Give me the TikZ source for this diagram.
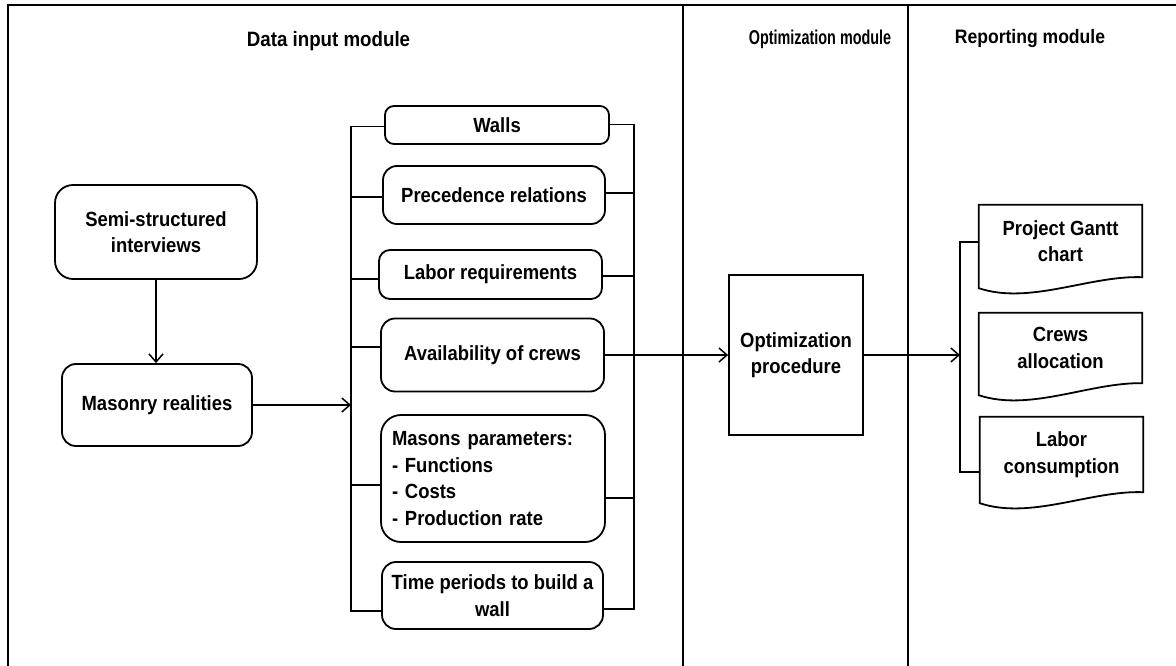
\documentclass[tikz,border=0pt]{standalone}
\usepackage{fontspec}
\setmainfont{Liberation Sans}[FakeStretch=0.9]
\newfontfamily\narrowfont{Liberation Sans}[FakeStretch=0.72]
\usetikzlibrary{arrows.meta,calc}
\begin{document}
\begin{tikzpicture}[x=1pt,y=-1pt,
  every node/.style={font=\bfseries\fontsize{20.5}{26.5}\selectfont},
  rbox/.style={draw, line width=1.8pt, rounded corners=14pt, align=center, inner sep=0pt},
  conn/.style={line width=1.9pt},
  arr/.style={conn, -{Straight Barb[length=8pt,width=14pt,line width=1.5pt]}},
  frame/.style={line width=2.4pt},
  title/.style={anchor=base},
  doc/.style={align=center, inner sep=0pt, minimum width=163pt},
  docline/.style={draw, line width=1.8pt}]
\useasboundingbox (0,0) rectangle (1176,666);
% frame and module dividers
\draw[frame] (8,666) -- (8,5) -- (1176,5);
\draw[frame] (683,5) -- (683,666);
\draw[frame] (908,5) -- (908,666);
% titles
\node[title, font=\bfseries\fontsize{20.8}{25}\selectfont] (t1) at (328.5,47) {Data input module};
\node[title, font=\narrowfont\bfseries\fontsize{20}{24}\selectfont] (t2) at (820,45) {Optimization module};
\node[title, font=\bfseries\fontsize{19.5}{23}\selectfont] (t3) at (1030,44) {Reporting module};
% data input boxes
\node[rbox, minimum width=202pt, minimum height=94pt, rounded corners=18pt] (semi) at (156,232) {Semi-structured\\interviews};
\node[rbox, minimum width=190pt, minimum height=82pt] (mas) at (157,405) {Masonry realities};
\node[rbox, minimum width=224pt, minimum height=38pt, rounded corners=9pt] (walls) at (497,125) {Walls};
\node[rbox, minimum width=222pt, minimum height=58pt] (prec) at (494,195) {Precedence relations};
\node[rbox, minimum width=223pt, minimum height=49pt, rounded corners=11pt] (labor) at (490.5,274.5) {Labor requirements};
\node[rbox, minimum width=223pt, minimum height=73pt] (avail) at (492.5,355) {Availability of crews};
\node[rbox, minimum width=224pt, minimum height=127pt, rounded corners=20pt, align=left, text width=202pt, inner xsep=11pt] (masons) at (493,478.5) {Masons parameters:\\- Functions\\- Costs\\- Production rate};
\node[rbox, minimum width=221pt, minimum height=67pt] (time) at (492.5,595.5) {Time periods to build a\\wall};
% optimization
\node[draw, line width=1.8pt, minimum width=134pt, minimum height=160pt, align=center, inner sep=0pt] (opt) at (796,355) {Optimization\\procedure};
% reporting documents
\node[doc, minimum height=72pt] (gantt) at (1060.5,241) {Project Gantt\\chart};
\node[doc, minimum height=70pt] (crews) at (1060.5,348) {Crews\\allocation};
\node[doc, minimum height=75pt] (lcons) at (1061.5,454.5) {Labor\\consumption};
\foreach \n/\d in {gantt/11, crews/12, lcons/11}{
  \draw[docline] (\n.south east) -- (\n.north east) -- (\n.north west) -- ($(\n.south west)+(0,\d)$)
    .. controls ($(\n.south west)+(51,\d+17)$) and ($(\n.south west)+(111,\d-13)$) .. (\n.south east) -- cycle;
}
% bracket coordinates
\coordinate (lbx) at (351,0);
\coordinate (rbx) at (634,0);
\coordinate (obx) at (960,0);
% connectors
\draw[arr] (semi.south) -- (semi.south |- mas.north);
\draw[arr] (mas.east) -- (mas.east -| lbx);
\draw[conn] ($(walls.west)+(0,1.5)$) -- ($(walls.west -| lbx)+(0,1.5)$) -- ($(time.west -| lbx)+(0,15.5)$) -- ($(time.west)+(0,15.5)$);
\foreach \n/\o in {prec/2, labor/4.5, avail/-8, masons/6.5}
  \draw[conn] ($(\n.west)+(0,\o)$) -- ($(\n.west -| lbx)+(0,\o)$);
\draw[conn] ($(walls.east)+(0,-0.5)$) -- ($(walls.east -| rbx)+(0,-0.5)$) -- ($(time.east -| rbx)+(0,13.5)$) -- ($(time.east)+(0,13.5)$);
\foreach \n/\o in {prec/-2, labor/1.5, masons/19.5}
  \draw[conn] ($(\n.east)+(0,\o)$) -- ($(\n.east -| rbx)+(0,\o)$);
\draw[arr] (avail.east) -- (avail.east -| opt.west);
\draw[arr] (opt.east) -- (opt.east -| obx);
\draw[conn] ($(gantt.west)+(0,1)$) -- ($(gantt.west -| obx)+(0,1)$) -- ($(lcons.west -| obx)+(0,17.5)$) -- ($(lcons.west)+(0,17.5)$);
\end{tikzpicture}
\end{document}
